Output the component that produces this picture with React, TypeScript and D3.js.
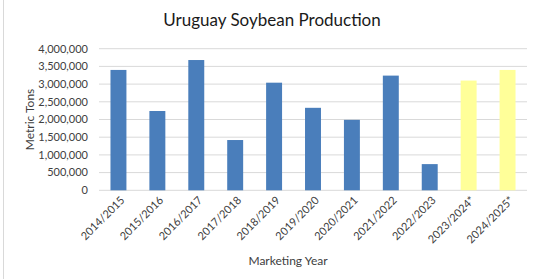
import React from "react";
import * as d3 from "d3";

const categories = ["2014/2015","2015/2016","2016/2017","2017/2018","2018/2019","2019/2020","2020/2021","2021/2022","2022/2023","2023/2024*","2024/2025*"];
const production = [3400000,2240000,3680000,1420000,3040000,2330000,1990000,3240000,740000,3100000,3400000];
const forecast = [false,false,false,false,false,false,false,false,false,true,true];
const yTicks = [0,500000,1000000,1500000,2000000,2500000,3000000,3500000,4000000];

const W = 537, H = 279;
const margin = { left: 99, right: 10, top: 48.7, bottom: 88.7 };
const FONT = "Lato, 'Open Sans', sans-serif";

export default function App() {
  const x = d3.scaleBand<string>().domain(categories).range([margin.left, W - margin.right]).paddingInner(0.59).paddingOuter(0.295);
  const y = d3.scaleLinear().domain([0, 4000000]).range([H - margin.bottom, margin.top]);
  const fmt = d3.format(",");
  return (
    <svg width={W} height={H} style={{ position: "absolute", left: 0, top: 0, background: "#fff" }}>
      <line x1={3.5} x2={3.5} y1={0} y2={H} stroke="#d9d9d9" strokeWidth={1} />
      <text x={272} y={26} textAnchor="middle" fontFamily={FONT} fontSize={17} fill="#1a1a1a">Uruguay Soybean Production</text>
      {yTicks.map(t => (
        <g key={t}>
          <line x1={margin.left} x2={W - margin.right} y1={y(t)} y2={y(t)} stroke="#d9d9d9" strokeWidth={1} />
          <text x={88} y={y(t)} dy="0.35em" textAnchor="end" fontFamily={FONT} fontSize={11} fill="#404040">{fmt(t)}</text>
        </g>
      ))}
      {categories.map((c, i) => (
        <rect key={c} x={x(c)} y={y(production[i])} width={x.bandwidth()} height={y(0) - y(production[i])} fill={forecast[i] ? "#ffff99" : "#4a7ebb"} />
      ))}
      {categories.map(c => {
        const cx = (x(c) as number) + x.bandwidth() / 2 + 4;
        return (
          <text key={c} transform={`translate(${cx},${y(0) + 8}) rotate(-45)`} textAnchor="end" dy="0.35em" fontFamily={FONT} fontSize={11} fill="#404040">{c}</text>
        );
      })}
      <text transform={`translate(34,${(margin.top + H - margin.bottom) / 2}) rotate(-90)`} textAnchor="middle" fontFamily={FONT} fontSize={12} fill="#404040">Metric Tons</text>
      <text x={288} y={265} textAnchor="middle" fontFamily={FONT} fontSize={12} fill="#404040">Marketing Year</text>
    </svg>
  );
}
